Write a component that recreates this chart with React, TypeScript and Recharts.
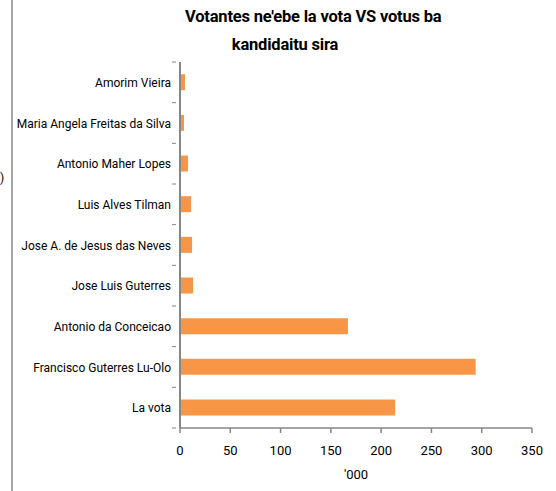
import React from 'react';
import { BarChart, Bar, XAxis, YAxis, Label } from 'recharts';

const candidates = [
  'Amorim Vieira',
  'Maria Angela Freitas da Silva',
  'Antonio Maher Lopes',
  'Luis Alves Tilman',
  'Jose A. de Jesus das Neves',
  'Jose Luis Guterres',
  'Antonio da Conceicao',
  'Francisco Guterres  Lu-Olo',
  'La vota',
];
const votes = [5, 4, 8, 11, 12, 13, 167, 294, 214];
const xTicks = [0, 50, 100, 150, 200, 250, 300, 350];
const titleLines = ["Votantes ne'ebe la vota VS votus ba", 'kandidaitu sira'];
const axisLabel = "'000";

const data = candidates.map((name, i) => ({ name, value: votes[i] }));

const FONT = "Roboto, 'Open Sans', sans-serif";
const AXIS = '#868686';
const BAR = '#F79646';

const W = 556;
const H = 491;
const M = { top: 62, right: 24, bottom: 20, left: 0 };
const Y_WIDTH = 180;
const X_HEIGHT = 43;
const PLOT_H = H - M.top - M.bottom - X_HEIGHT;

const CatTick = (props: any) => {
  const { x, y, payload, index } = props;
  const half = payload && payload.offset ? payload.offset : PLOT_H / candidates.length / 2;
  const ax = x + 4;
  return (
    <g>
      <line x1={ax - 4} x2={ax} y1={y - half} y2={y - half} stroke={AXIS} strokeWidth={1} />
      {index === candidates.length - 1 && (
        <line x1={ax - 4} x2={ax} y1={y + half} y2={y + half} stroke={AXIS} strokeWidth={1} />
      )}
      <text x={ax - 5} y={y} dy={4.5} textAnchor="end" fontFamily={FONT} fontSize={12} fill="#000">
        {payload.value}
      </text>
    </g>
  );
};

export default function App() {
  return (
    <div style={{ position: 'absolute', left: 0, top: 0, width: W, height: H, background: '#fff' }}>
      <div style={{ position: 'absolute', left: 11, top: 0, width: 1.5, height: H, background: '#a6a6a6' }} />
      <div style={{ position: 'absolute', left: 0, top: 170, fontFamily: FONT, fontSize: 12, lineHeight: '16px' }}>)</div>
      <div
        style={{
          position: 'absolute',
          left: 185,
          width: 200,
          top: 3,
          textAlign: 'center',
          fontFamily: FONT,
          fontWeight: 'bold',
          fontSize: 16.5,
          lineHeight: '28px',
          letterSpacing: -0.2,
          color: '#000',
        }}
      >
        {titleLines.map((t) => (
          <div key={t} style={{ whiteSpace: 'nowrap' }}>{t}</div>
        ))}
      </div>
      <BarChart width={W} height={H} data={data} layout="vertical" margin={M} barCategoryGap="30%">
        <XAxis
          type="number"
          domain={[0, 350]}
          ticks={xTicks}
          interval={0}
          height={X_HEIGHT}
          stroke={AXIS}
          strokeWidth={1.5}
          tickSize={5}
          tickMargin={13}
          tick={{ fill: '#000', fontFamily: FONT, fontSize: 13 }}
        >
          <Label value={axisLabel} position="insideBottom" offset={-8} style={{ fill: '#000', fontFamily: FONT, fontSize: 13 }} />
        </XAxis>
        <YAxis
          type="category"
          dataKey="name"
          width={Y_WIDTH}
          stroke={AXIS}
          strokeWidth={2}
          tickLine={false}
          interval={0}
          tick={<CatTick />}
        />
        <Bar dataKey="value" fill={BAR} isAnimationActive={false} />
      </BarChart>
    </div>
  );
}
